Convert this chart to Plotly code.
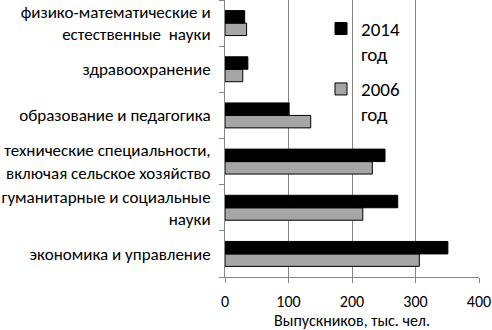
import plotly.graph_objects as go

categories = [
    "экономика и управление",
    "гуманитарные и социальные<br>науки",
    "технические специальности,<br>включая сельское хозяйство",
    "образование и педагогика",
    "здравоохранение",
    "физико-математические и<br>естественные  науки",
]
values_2014 = [351, 272, 252, 101, 36, 31]
values_2006 = [306, 217, 232, 135, 28, 34]
x_ticks = [0, 100, 200, 300, 400]
x_title = "Выпускников, тыс. чел."

FONT = "Carlito, Open Sans, sans-serif"

fig = go.Figure()
fig.add_trace(go.Bar(
    y=categories, x=values_2006, orientation="h", name="2006<br>год",
    legendgroup="g2006", legendrank=2,
    marker=dict(color="#A6A6A6", line=dict(color="#000000", width=1)),
))
fig.add_trace(go.Bar(
    y=categories, x=values_2014, orientation="h", name="2014<br>год",
    legendgroup="g2014", legendrank=1,
    marker=dict(color="#000000", line=dict(color="#000000", width=1)),
))

fig.update_layout(
    width=492, height=330,
    margin=dict(l=225, r=13, t=0, b=53, autoexpand=False),
    paper_bgcolor="white", plot_bgcolor="white",
    barmode="group", bargap=0.46, bargroupgap=0,
    font=dict(family=FONT, size=17, color="#000000"),
    legend=dict(
        x=0.378, y=0.965, xanchor="left", yanchor="top",
        traceorder="grouped", valign="top", tracegroupgap=8,
        font=dict(family=FONT, size=19, color="#000000"),
        bgcolor="rgba(0,0,0,0)", itemclick=False,
    ),
    xaxis=dict(
        range=[0, 400], tickvals=x_ticks, showgrid=True, gridcolor="#868686",
        gridwidth=1, showline=True, linecolor="#868686", linewidth=1,
        ticks="outside", ticklen=5, tickcolor="#868686",
        tickfont=dict(family=FONT, size=16), zeroline=False,
        ticklabelstandoff=5,
        title=dict(text=x_title, font=dict(family=FONT, size=16), standoff=4),
        automargin=False,
    ),
    yaxis=dict(
        type="category", showline=True, linecolor="#868686", linewidth=1,
        ticks="outside", ticklen=5, tickcolor="#868686", tickson="boundaries",
        tickfont=dict(family=FONT, size=17), showgrid=False,
        ticklabelstandoff=10,
        automargin=False, range=[-0.5, 5.5],
    ),
)

fig.write_html("out.html", config={"displayModeBar": False},
               post_script="document.body.style.margin='0';")
